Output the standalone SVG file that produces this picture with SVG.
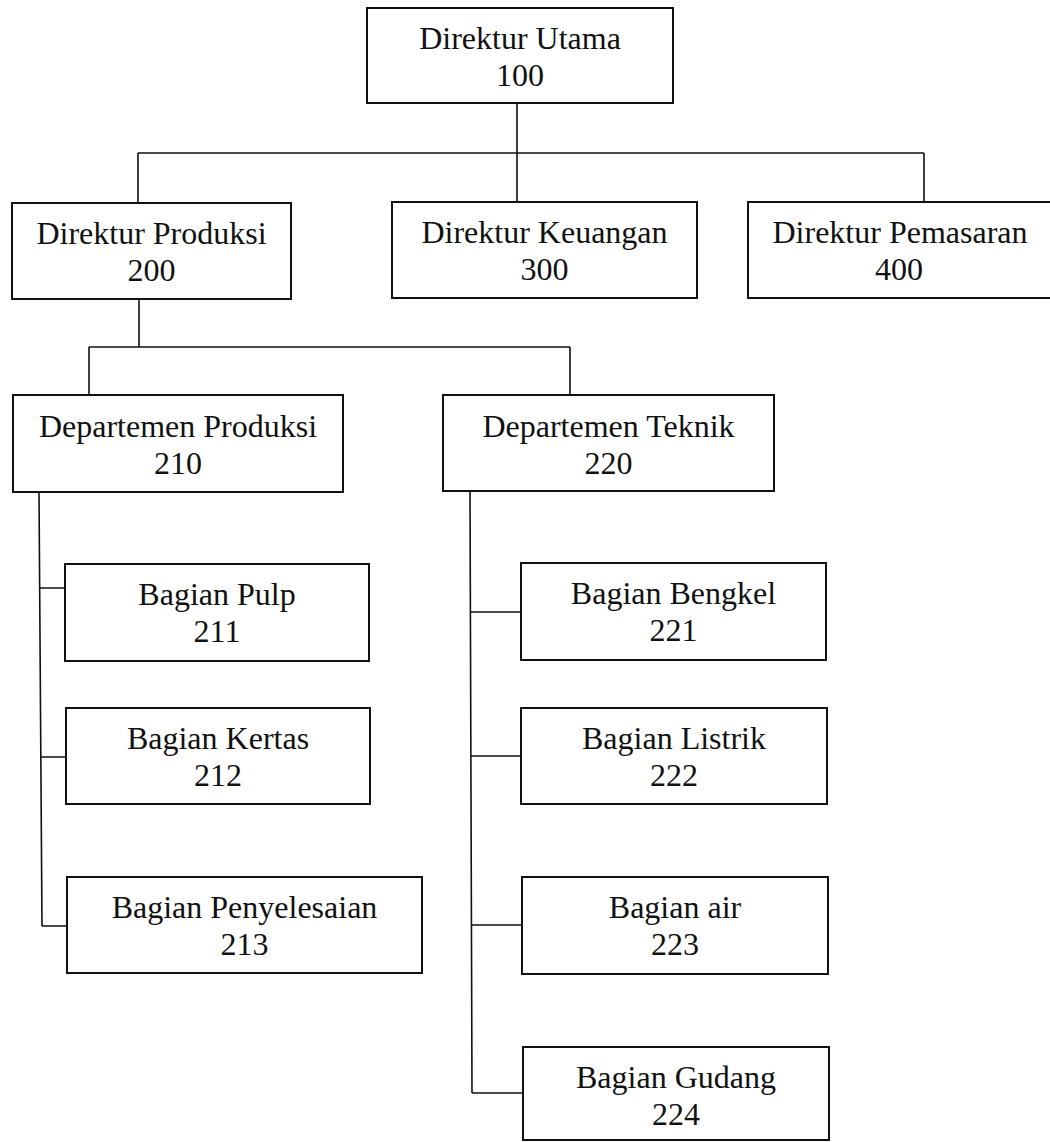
<svg xmlns="http://www.w3.org/2000/svg" width="1050" height="1142" viewBox="0 0 1050 1142">
  <style>
    .box { fill: #ffffff; stroke: #111111; stroke-width: 2; }
    .link { fill: none; stroke: #111111; stroke-width: 1.6; }
    .lbl { font-family: "Liberation Serif", "Times New Roman", serif; font-size: 32px; fill: #111111; text-anchor: middle; }
  </style>
  <rect width="1050" height="1142" fill="#ffffff"/>

  <!-- connectors -->
  <g id="connectors">
    <path class="link" d="M517,103 V153 M138,153 H924 M138,153 V203 M517,153 V202 M924,153 V202"/>
    <path class="link" d="M139,299 V347 M89,347 H570 M89,347 V395 M570,347 V395"/>
    <path class="link" d="M39,492 L42,926 M40,588 H65 M41,757 H66 M42,926 H67"/>
    <path class="link" d="M470,491 L472,1093 M470,612 H521 M471,756 H521 M471,925 H522 M472,1093 H523"/>
  </g>

  <!-- nodes -->
  <g id="n100">
    <rect class="box" x="367" y="8" width="306" height="95"/>
    <text class="lbl" x="520" y="49">Direktur Utama</text>
    <text class="lbl" x="520" y="86">100</text>
  </g>
  <g id="n200">
    <rect class="box" x="12" y="203" width="279" height="96"/>
    <text class="lbl" x="151.5" y="244">Direktur Produksi</text>
    <text class="lbl" x="151.5" y="281">200</text>
  </g>
  <g id="n300">
    <rect class="box" x="392" y="202" width="305" height="96"/>
    <text class="lbl" x="544.5" y="243">Direktur Keuangan</text>
    <text class="lbl" x="544.5" y="280">300</text>
  </g>
  <g id="n400">
    <rect class="box" x="748" y="202" width="306" height="96"/>
    <text class="lbl" x="900" y="243">Direktur Pemasaran</text>
    <text class="lbl" x="899" y="280">400</text>
  </g>
  <g id="n210">
    <rect class="box" x="13" y="395" width="330" height="97"/>
    <text class="lbl" x="178" y="437">Departemen Produksi</text>
    <text class="lbl" x="178" y="474">210</text>
  </g>
  <g id="n220">
    <rect class="box" x="443" y="395" width="331" height="96"/>
    <text class="lbl" x="608.5" y="437">Departemen Teknik</text>
    <text class="lbl" x="608.5" y="474">220</text>
  </g>
  <g id="n211">
    <rect class="box" x="65" y="564" width="304" height="97"/>
    <text class="lbl" x="217" y="605">Bagian Pulp</text>
    <text class="lbl" x="217" y="642">211</text>
  </g>
  <g id="n212">
    <rect class="box" x="66" y="708" width="304" height="96"/>
    <text class="lbl" x="218" y="749">Bagian Kertas</text>
    <text class="lbl" x="218" y="786">212</text>
  </g>
  <g id="n213">
    <rect class="box" x="67" y="877" width="355" height="96"/>
    <text class="lbl" x="244.5" y="918">Bagian Penyelesaian</text>
    <text class="lbl" x="244.5" y="955">213</text>
  </g>
  <g id="n221">
    <rect class="box" x="521" y="563" width="305" height="97"/>
    <text class="lbl" x="673.5" y="604">Bagian Bengkel</text>
    <text class="lbl" x="673.5" y="641">221</text>
  </g>
  <g id="n222">
    <rect class="box" x="521" y="708" width="306" height="96"/>
    <text class="lbl" x="674" y="749">Bagian Listrik</text>
    <text class="lbl" x="674" y="786">222</text>
  </g>
  <g id="n223">
    <rect class="box" x="522" y="877" width="306" height="97"/>
    <text class="lbl" x="675" y="918">Bagian air</text>
    <text class="lbl" x="675" y="955">223</text>
  </g>
  <g id="n224">
    <rect class="box" x="523" y="1047" width="306" height="93"/>
    <text class="lbl" x="676" y="1088">Bagian Gudang</text>
    <text class="lbl" x="676" y="1125">224</text>
  </g>
</svg>
